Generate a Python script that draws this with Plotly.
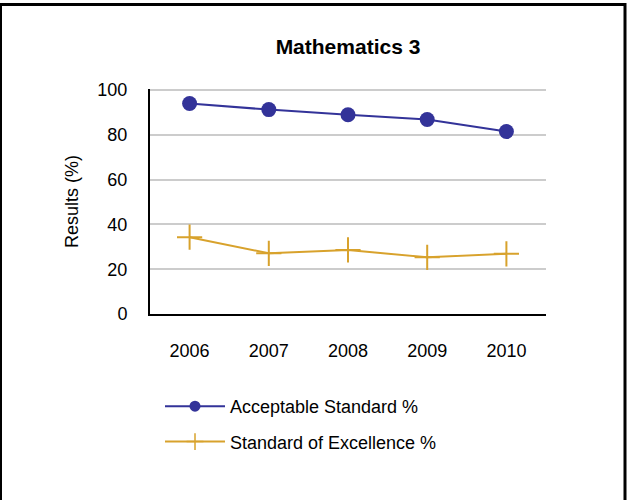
import plotly.graph_objects as go

years = ["2006", "2007", "2008", "2009", "2010"]
acceptable = [94.0, 91.3, 89.0, 86.9, 81.5]
excellence = [34.3, 27.1, 28.6, 25.3, 26.9]
y_ticks = [0, 20, 40, 60, 80, 100]
names = ["Acceptable Standard %", "Standard of Excellence %"]

FONT = "Liberation Sans, Arial, sans-serif"
BLUE = "#333399"
GOLD = "#D8A22C"

fig = go.Figure()
fig.add_trace(go.Scatter(
    x=years, y=acceptable, name=names[0], mode="lines+markers",
    line=dict(color=BLUE, width=2),
    marker=dict(symbol="circle", size=15, color=BLUE),
    showlegend=False,
))
fig.add_trace(go.Scatter(
    x=years, y=excellence, name=names[1], mode="lines+markers",
    line=dict(color=GOLD, width=2),
    marker=dict(symbol="cross-thin", size=18, color=GOLD, line=dict(color=GOLD, width=2)),
    showlegend=False,
))
# legend entries with smaller symbols, as in the reference
fig.add_trace(go.Scatter(
    x=[None], y=[None], name=names[0], mode="lines+markers",
    line=dict(color=BLUE, width=2),
    marker=dict(symbol="circle", size=11, color=BLUE),
    legendgroup="a", hoverinfo="skip",
))
fig.add_trace(go.Scatter(
    x=[None], y=[None], name=names[1], mode="lines+markers",
    line=dict(color=GOLD, width=2),
    marker=dict(symbol="cross-thin", size=12, color=GOLD, line=dict(color=GOLD, width=1.5)),
    legendgroup="b", hoverinfo="skip",
))

fig.update_layout(
    width=632, height=500,
    margin=dict(l=150, r=86, t=89, b=186),
    paper_bgcolor="white", plot_bgcolor="white",
    font=dict(family=FONT, size=18, color="black"),
    title=dict(text="<b>Mathematics 3</b>", x=0.5, xref="paper", xanchor="center",
               y=1 - 47 / 500, yanchor="middle", font=dict(size=21, family=FONT)),
    showlegend=True,
    legend=dict(x=(160 - 150) / 396, xanchor="left", y=(313 - 387) / 225, yanchor="top",
                itemwidth=60, tracegroupgap=9, traceorder="grouped",
                font=dict(size=18), bgcolor="rgba(0,0,0,0)"),
    xaxis=dict(type="category", range=[-0.5, 4.5], showline=True, linecolor="black",
               linewidth=2, showgrid=False, ticks="", ticklabelstandoff=19,
               tickfont=dict(size=18)),
    yaxis=dict(range=[0, 100.5], tickvals=y_ticks, showline=True, linecolor="black",
               linewidth=2, showgrid=True, gridcolor="#cccccc", gridwidth=2,
               ticks="", ticklabelstandoff=17, zeroline=False, tickfont=dict(size=18),
               title=dict(text="Results (%)", standoff=14, font=dict(size=18))),
    shapes=[dict(type="rect", xref="paper", yref="paper",
                 x0=(0.5 - 150) / 396, x1=(625 - 150) / 396,
                 y0=(313 - 510) / 225, y1=(313 - 3.5) / 225,
                 line=dict(color="black", width=3), fillcolor="rgba(0,0,0,0)", layer="below")],
)

fig.write_html("out.html", config={"displayModeBar": False},
               post_script="document.body.style.margin='0';document.body.style.padding='0';")
